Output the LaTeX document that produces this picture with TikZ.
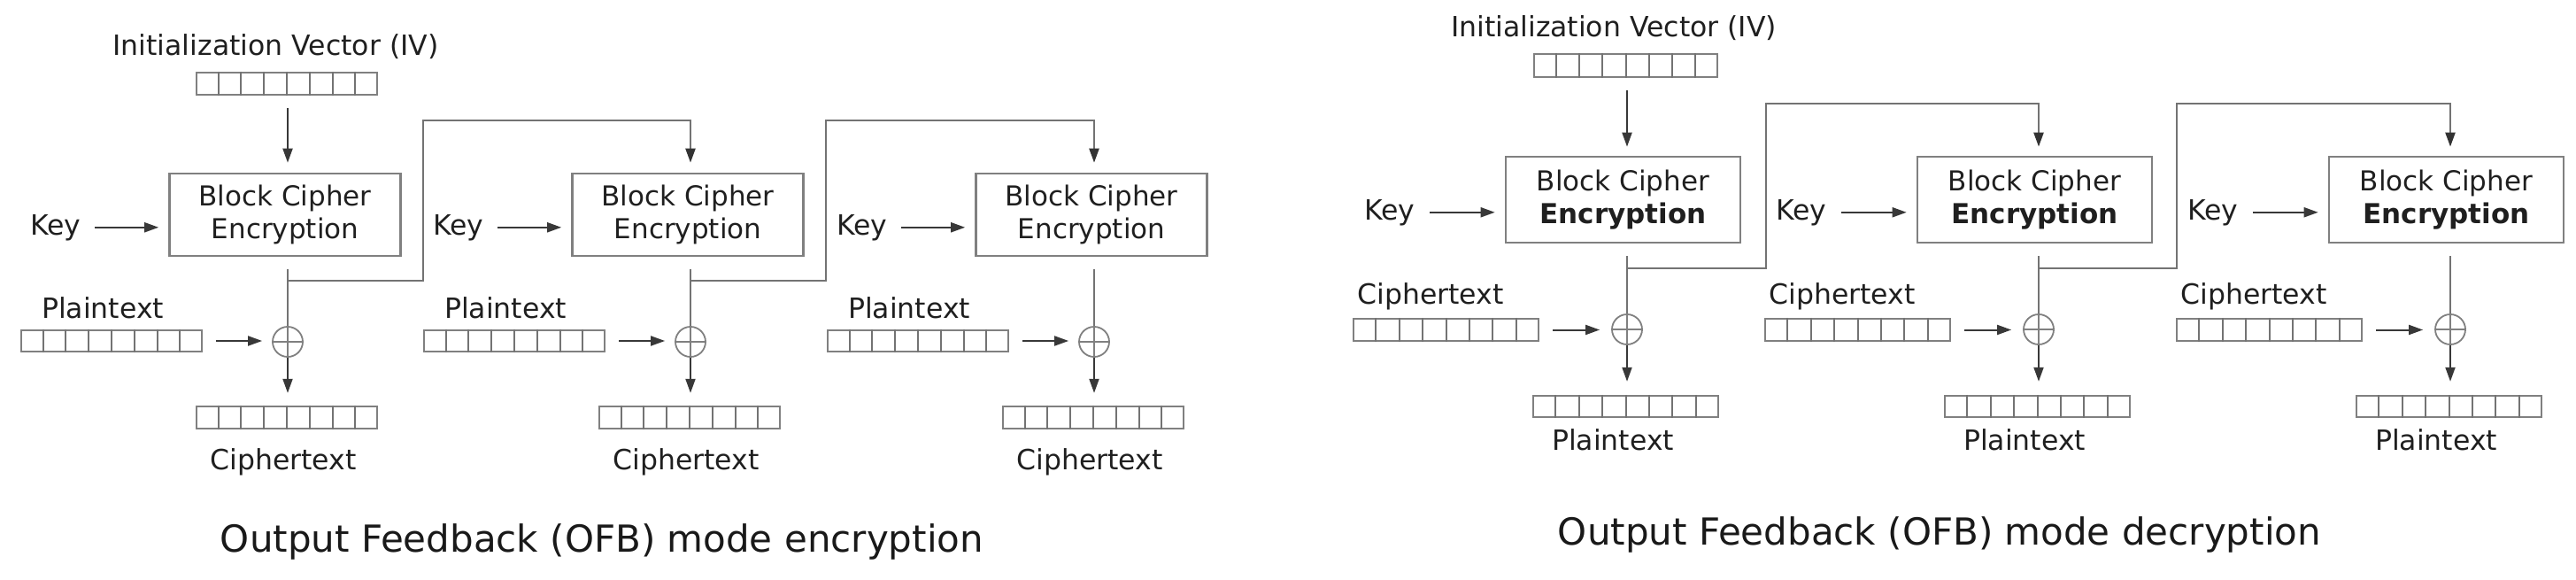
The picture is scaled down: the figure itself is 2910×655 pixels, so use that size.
\documentclass[tikz,border=0pt]{standalone}
\usepackage{fontspec}
\setmainfont{DejaVu Sans}
\usetikzlibrary{arrows.meta,calc}
\tikzset{
  boxc/.style={draw=black!50, line width=2.6bp, rectangle, inner sep=0pt, align=center, text=black!88, font=\fontsize{31bp}{37bp}\selectfont},
  regc/.style={draw=black!50, line width=2.4bp, rectangle, inner sep=0pt},
  regline/.style={draw=black!55, line width=2bp},
  lbl/.style={inner sep=0pt, text=black!88, font=\fontsize{31.5bp}{36bp}\selectfont, anchor=base},
  ttl/.style={inner sep=0pt, text=black!90, font=\fontsize{42bp}{48bp}\selectfont, anchor=base},
  conn/.style={draw=black!78, line width=2bp},
  fb/.style={draw=black!55, line width=2.2bp},
  arr/.style={conn, -{Triangle[length=16bp,width=11bp]}},
  fbarr/.style={fb, -{Triangle[length=16bp,width=11bp,color=black!80]}},
  xorc/.style={draw=black!50, line width=1.8bp, circle, minimum size=34bp, inner sep=0pt},
  xorl/.style={draw=black!50, line width=1.8bp},
}
\newcommand\regcells[1]{\foreach \i in {1,...,7}{\draw[regline] ($(#1.north west)!\i/8!(#1.north east)$) -- ($(#1.south west)!\i/8!(#1.south east)$);}}
\begin{document}
\begin{tikzpicture}[x=1bp,y=-1bp]
\useasboundingbox (0,0) rectangle (2910,655);
% ---------------- Encryption ----------------
\node[lbl] (eiv) at (311.5,63) {Initialization Vector (IV)};
\node[regc, minimum width=204bp, minimum height=25bp] (eivr) at (324,94.5) {};
\regcells{eivr}
\foreach \c/\n in {325/1,780/2,1236/3}{
  \node[boxc, minimum width=261bp, minimum height=93bp] (eb\n) at (\c-3,242.5) {Block Cipher\\Encryption};
  \node[lbl] (ek\n) at (\c-262,265) {Key};
  \node[lbl] (ept\n) at (\c-209,359) {Plaintext};
  \node[regc, minimum width=204bp, minimum height=24bp] (epr\n) at (\c-199,385) {};
  \regcells{epr\n}
  \node[xorc] (ex\n) at (\c,386) {};
  \draw[xorl] (ex\n.west) -- (ex\n.east);
  \draw[xorl] (ex\n.north) -- (ex\n.south);
  \node[regc, minimum width=204bp, minimum height=25bp] (ecr\n) at (\c-1,471.5) {};
  \regcells{ecr\n}
  \node[lbl] (ect\n) at (\c-5,530) {Ciphertext};
  \draw[arr, shorten <=15bp, shorten >=11bp] (ek\n.east) -- (ek\n.east -| eb\n.west);
  \draw[arr, shorten <=15bp, shorten >=11bp] (epr\n.east) -- (epr\n.east -| ex\n.west);
  \draw[fb, shorten <=14bp] (eb\n.south -| ex\n.north) -- (ex\n.north);
  \draw[arr, shorten >=14bp] (ex\n.south) -- (ex\n.south |- ecr\n.north);
}
\draw[arr, shorten <=14bp, shorten >=11bp] (eivr.south -| ex1.north) -- (eb1.north -| ex1.north);
\coordinate (ebr1) at (325,317);
\coordinate (eup1) at (478,136);
\coordinate (ebr2) at (780,317);
\coordinate (eup2) at (933,136);
\draw[fbarr, shorten >=11bp] (ebr1) -| (eup1) -- (eup1 -| ex2.north) -- (eb2.north -| ex2.north);
\draw[fbarr, shorten >=11bp] (ebr2) -| (eup2) -- (eup2 -| ex3.north) -- (eb3.north -| ex3.north);
\node[ttl] (et) at (680,623) {Output Feedback (OFB) mode encryption};
% ---------------- Decryption ----------------
\node[lbl] (div) at (1823,42) {Initialization Vector (IV)};
\node[regc, minimum width=207bp, minimum height=26bp] (divr) at (1836.5,74) {};
\regcells{divr}
\foreach \c/\n in {1838/1,2303/2,2768/3}{
  \node[boxc, minimum width=265bp, minimum height=97bp] (db\n) at (\c-4.5,225.5) {Block Cipher\\\textbf{Encryption}};
  \node[lbl] (dk\n) at (\c-268,248) {Key};
  \node[lbl] (dct\n) at (\c-222,343) {Ciphertext};
  \node[regc, minimum width=209bp, minimum height=25bp] (dcr\n) at (\c-204.5,372.5) {};
  \regcells{dcr\n}
  \node[xorc] (dx\n) at (\c,372) {};
  \draw[xorl] (dx\n.west) -- (dx\n.east);
  \draw[xorl] (dx\n.north) -- (dx\n.south);
  \node[regc, minimum width=209bp, minimum height=24bp] (dpr\n) at (\c-1.5,459) {};
  \regcells{dpr\n}
  \node[lbl] (dpt\n) at (\c-16,508) {Plaintext};
  \draw[arr, shorten <=16bp, shorten >=11bp] (dk\n.east) -- (dk\n.east -| db\n.west);
  \draw[arr, shorten <=15bp, shorten >=13bp] (dcr\n.east) -- (dcr\n.east -| dx\n.west);
  \draw[fb, shorten <=14bp] (db\n.south -| dx\n.north) -- (dx\n.north);
  \draw[arr, shorten >=15bp] (dx\n.south) -- (dx\n.south |- dpr\n.north);
}
\draw[arr, shorten <=14bp, shorten >=10bp] (divr.south -| dx1.north) -- (db1.north -| dx1.north);
\coordinate (dbr1) at (1838,303);
\coordinate (dup1) at (1995,117);
\coordinate (dbr2) at (2303,303);
\coordinate (dup2) at (2459,117);
\draw[fbarr, shorten >=10bp] (dbr1) -| (dup1) -- (dup1 -| dx2.north) -- (db2.north -| dx2.north);
\draw[fbarr, shorten >=10bp] (dbr2) -| (dup2) -- (dup2 -| dx3.north) -- (db3.north -| dx3.north);
\node[ttl] (dt) at (2191,615) {Output Feedback (OFB) mode decryption};
\end{tikzpicture}
\end{document}
